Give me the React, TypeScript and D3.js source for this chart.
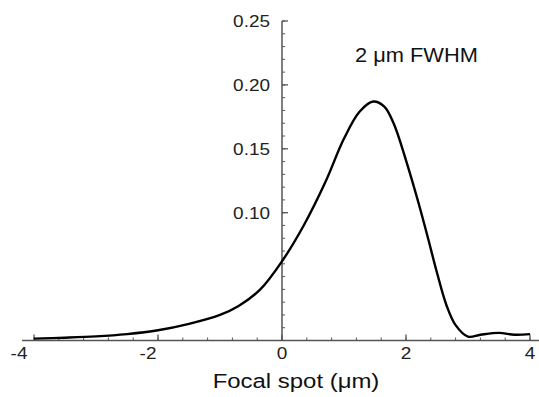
import React from "react";
import * as d3 from "d3";

const xValues = [-4, -3.5, -3, -2.5, -2, -1.5, -1, -0.7, -0.35, 0, 0.35, 0.7, 1.0, 1.25, 1.47, 1.65, 1.8, 2.0, 2.2, 2.35, 2.5, 2.65, 2.8, 3.0, 3.2, 3.5, 3.75, 4.0];
const yValues = [0.0015, 0.0022, 0.0032, 0.005, 0.008, 0.013, 0.02, 0.027, 0.04, 0.062, 0.09, 0.124, 0.158, 0.179, 0.187, 0.183, 0.17, 0.141, 0.108, 0.081, 0.053, 0.028, 0.012, 0.003, 0.0045, 0.006, 0.0045, 0.005];
const xTickValues = [-4, -2, 0, 2, 4];
const xTickLabels = ["-4", "-2", "0", "2", "4"];
const yTickValues = [0.1, 0.15, 0.2, 0.25];
const yTickLabels = ["0.10", "0.15", "0.20", "0.25"];
const xLabel = "Focal spot (\u03bcm)";
const annotation = "2 \u03bcm FWHM";

const W = 539;
const H = 397;
const FONT = "'Liberation Sans', Arial, Helvetica, sans-serif";
const AXIS = "#555";

export default function App() {
  const x = d3.scaleLinear().domain([-4, 4]).range([34, 530]);
  const y = d3.scaleLinear().domain([0, 0.25]).range([340.5, 21]);
  const pts: [number, number][] = xValues.map((v, i) => [v, yValues[i]]);
  const line = d3
    .line<[number, number]>()
    .x((d) => x(d[0]))
    .y((d) => y(d[1]))
    .curve(d3.curveCatmullRom.alpha(0.5));

  const xMinor = d3.range(-4, 4.001, 0.4).map((v) => Math.round(v * 10) / 10);
  const yMinor = d3.range(0.01, 0.2501, 0.01).map((v) => Math.round(v * 100) / 100);
  const x0 = x(0);
  const yBase = y(0);
  const labelShift: Record<string, number> = { "-4": -15, "-2": -10 };

  return (
    <svg
      width={W}
      height={H}
      style={{ position: "absolute", left: 0, top: 0, background: "#fff" }}
    >
      <rect width={W} height={H} fill="#fff" />
      {/* x axis */}
      <line x1={22} x2={539} y1={yBase} y2={yBase} stroke={AXIS} strokeWidth={1.5} />
      {xMinor.map((v) => (
        <line key={"xm" + v} x1={x(v)} x2={x(v)} y1={yBase} y2={yBase - 3} stroke={AXIS} strokeWidth={1} />
      ))}
      {xTickValues.map((v) => (
        <line key={"xt" + v} x1={x(v)} x2={x(v)} y1={yBase} y2={yBase - 6} stroke={AXIS} strokeWidth={1.3} />
      ))}
      {xTickValues.map((v, i) => (
        <text
          key={"xl" + v}
          transform={`translate(${x(v) + (labelShift[xTickLabels[i]] || 0)},${358.5}) scale(1.15,1)`}
          textAnchor="middle"
          fontFamily={FONT}
          fontSize={16.5}
          fill="#222"
        >
          {xTickLabels[i]}
        </text>
      ))}
      {/* y axis */}
      <line x1={x0} x2={x0} y1={y(0.25)} y2={yBase} stroke={AXIS} strokeWidth={1.5} />
      {yMinor.map((v) => (
        <line key={"ym" + v} x1={x0} x2={x0 + 3} y1={y(v)} y2={y(v)} stroke={AXIS} strokeWidth={1} />
      ))}
      {yTickValues.map((v) => (
        <line key={"yt" + v} x1={x0} x2={x0 + 6} y1={y(v)} y2={y(v)} stroke={AXIS} strokeWidth={1.3} />
      ))}
      {yTickValues.map((v, i) => (
        <text
          key={"yl" + v}
          transform={`translate(${270},${y(v) + 6}) scale(1.15,1)`}
          textAnchor="end"
          fontFamily={FONT}
          fontSize={16.5}
          fill="#222"
        >
          {yTickLabels[i]}
        </text>
      ))}
      {/* curve */}
      <path d={line(pts) || ""} fill="none" stroke="#000" strokeWidth={2.4} strokeLinejoin="round" />
      {/* annotation */}
      <text
        transform={`translate(355,62) scale(1.12,1)`}
        fontFamily={FONT}
        fontSize={19.5}
        fill="#111"
      >
        {annotation}
      </text>
      {/* x label */}
      <text
        transform={`translate(296,388) scale(1.14,1)`}
        textAnchor="middle"
        fontFamily={FONT}
        fontSize={21}
        fill="#111"
      >
        {xLabel}
      </text>
    </svg>
  );
}
